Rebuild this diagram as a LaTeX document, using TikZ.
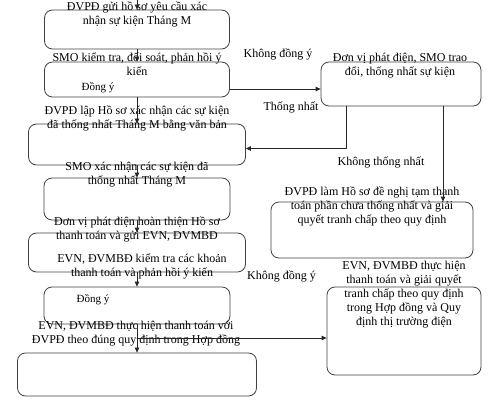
\documentclass[tikz,border=0pt]{standalone}
\usepackage{fontspec}
\setmainfont{Liberation Serif}
\usetikzlibrary{arrows.meta}

\begin{document}
\begin{tikzpicture}[line cap=round,line join=round,x=1pt,y=-1pt,
    box/.style={draw=black!75, line width=0.8pt, rounded corners=8pt, inner sep=0pt},
    txt/.style={align=center, inner sep=0pt, font=\fontsize{12}{14}\selectfont},
    note/.style={inner sep=0pt, font=\fontsize{11}{12}\selectfont},
    arr/.style={draw=black!85, line width=0.8pt, -{Triangle[length=5pt,width=4.5pt]}}]

    \useasboundingbox (0,0) rectangle (500,401);

    % Left column
    \draw (137,29.5) node[box, minimum width=185pt, minimum height=39pt] (S1) {};
    \draw (137,79.5) node[box, minimum width=185pt, minimum height=35pt] (S2) {};
    \draw (137,144.5) node[box, minimum width=217pt, minimum height=41pt] (S3) {};
    \draw (137,199) node[box, minimum width=186pt, minimum height=42pt] (S4) {};
    \draw (137,252.5) node[box, minimum width=217pt, minimum height=39pt] (S5) {};
    \draw (137,305.5) node[box, minimum width=186pt, minimum height=37pt] (S6) {};
    \draw (137,374.5) node[box, minimum width=239pt, minimum height=43pt] (S7) {};
    % Right column
    \draw (401,84) node[box, minimum width=160pt, minimum height=44pt] (R1) {};
    \draw (372,230) node[box, minimum width=202pt, minimum height=56pt] (R2) {};
    \draw (404,331) node[box, minimum width=154pt, minimum height=88pt] (R3) {};

    % Texts
    \draw (137,14.5) node[txt] (T1) {ĐVPĐ gửi hồ sơ yêu cầu xác\\nhận sự kiện Tháng M};
    \draw (137,64.5) node[txt] (T2) {SMO kiểm tra, đối soát, phản hồi ý\\kiến};
    \draw (137,118.5) node[txt] (T3) {ĐVPĐ lập Hồ sơ xác nhận các sự kiện\\đã thống nhất Tháng M bằng văn bản};
    \draw (137,175) node[txt] (T4) {SMO xác nhận các sự kiện đã\\thống nhất Tháng M};
    \draw (137,229) node[txt] (T5) {Đơn vị phát điện hoàn thiện Hồ sơ\\thanh toán và gửi EVN, ĐVMBĐ};
    \draw (142,266.5) node[txt] (T6) {EVN, ĐVMBĐ kiểm tra các khoản\\thanh toán và phản hồi ý kiến};
    \draw (136,333.5) node[txt] (T7) {EVN, ĐVMBĐ thực hiện thanh toán với\\ĐVPĐ theo đúng quy định trong Hợp đồng};
    \draw (400,66) node[txt] (T8) {Đơn vị phát điện, SMO trao\\đổi, thống nhất sự kiện};
    \draw (372,206) node[txt] (T9) {ĐVPĐ làm Hồ sơ đề nghị tạm thanh\\toán phần chưa thống nhất và giải\\quyết tranh chấp theo quy định};
    \draw (404,295) node[txt] (T10) {EVN, ĐVMBĐ thực hiện\\thanh toán và giải quyết\\tranh chấp theo quy định\\trong Hợp đồng và Quy\\định thị trường điện};

    % Labels
    \draw (98,88) node[note] (D1) {Đồng ý};
    \draw (93,300) node[note] (D2) {Đồng ý};
    \draw (278,54) node[txt] (L1) {Không đồng ý};
    \draw (291,107.5) node[txt] (L2) {Thống nhất};
    \draw (381,162) node[txt] (L3) {Không thống nhất};
    \draw (281.5,276) node[txt] (L4) {Không đồng ý};

    % Main flow
    \coordinate (S0) at (137,0);
    \draw[arr] (S0) -- (S1.north);
    \draw[arr] (S1.south) -- (S2.north);
    \draw[arr] (S2.south) -- (S3.north);
    \draw[arr] (S3.south) -- (S4.north);
    \draw[arr] (S4.south) -- (S5.north);
    \draw[arr] (S5.south) -- (S6.north);
    \draw[arr] (S6.south) -- (S7.north);
    % Branches
    \draw[arr] ([yshift=-9.5pt]S2.east) coordinate (K1) -- (K1 -| R1.west);
    \draw[arr] ([xshift=-55pt]R1.south) |- ([yshift=-4pt]S3.east);
    \draw[arr] ([xshift=42pt]R1.south) coordinate (K2) -- (K2 |- R2.north);
    \coordinate (K3) at (137,338);
    \draw[arr] (K3) -- (K3 -| R3.west);
\end{tikzpicture}
\end{document}
